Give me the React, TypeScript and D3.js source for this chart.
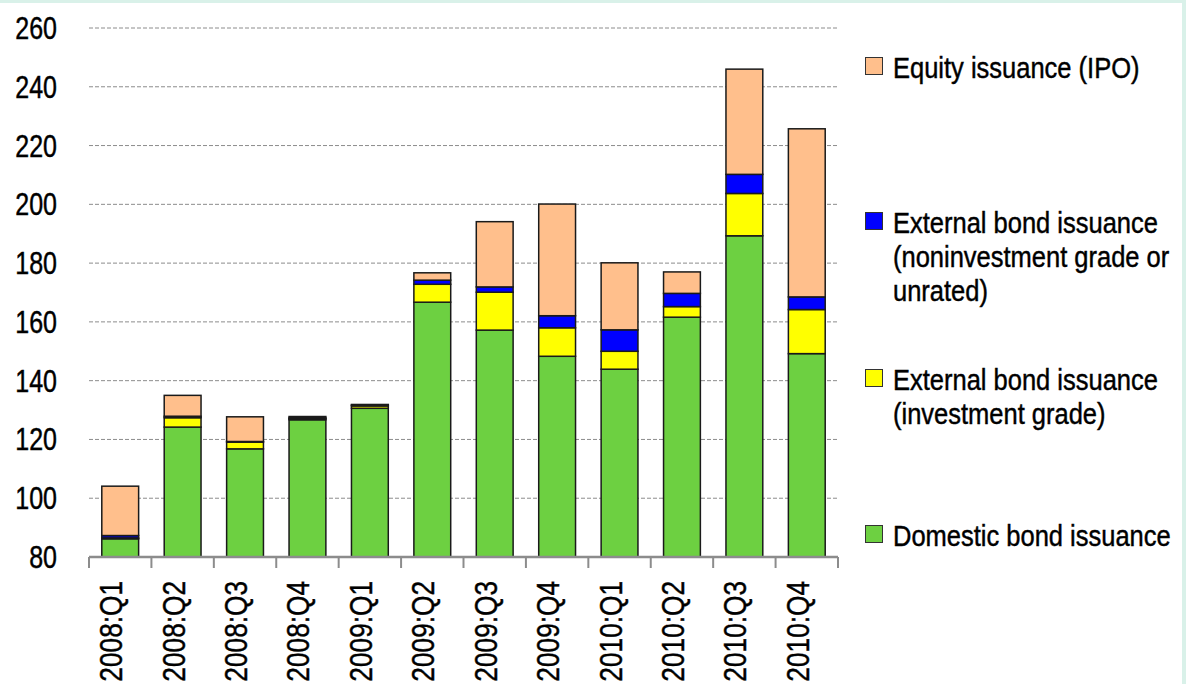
import * as React from "react";
import * as d3 from "d3";

const quarters = [
  "2008:Q1", "2008:Q2", "2008:Q3", "2008:Q4",
  "2009:Q1", "2009:Q2", "2009:Q3", "2009:Q4",
  "2010:Q1", "2010:Q2", "2010:Q3", "2010:Q4",
];
const domestic = [86.2, 124.2, 116.8, 126.7, 130.6, 166.7, 157.2, 148.3, 143.9, 161.6, 189.3, 149.2];
const extInvestment = [0.3, 3.2, 2.3, 0.4, 0.8, 6.1, 12.9, 9.7, 6.1, 3.6, 14.4, 15.0];
const extNonInvestment = [0.8, 0.5, 0.2, 0.2, 0.3, 1.4, 1.8, 4.1, 7.3, 4.5, 6.5, 4.3];
const equity = [16.8, 7.1, 8.4, 0.5, 0.2, 2.5, 22.2, 38.0, 22.8, 7.3, 35.8, 57.2];
const yTicks = [80, 100, 120, 140, 160, 180, 200, 220, 240, 260];

const seriesKeys = ["domestic", "extInv", "extNonInv", "equity"];
const seriesColors = {
  domestic: "#6dd041",
  extInv: "#ffff00",
  extNonInv: "#0000ff",
  equity: "#ffbf8c",
};

// legend, top to bottom
const legendItems = [
  { key: "equity", lines: ["Equity issuance (IPO)"], y: 78 },
  { key: "extNonInv", lines: ["External bond issuance", "(noninvestment grade or", "unrated)"], y: 233 },
  { key: "extInv", lines: ["External bond issuance", "(investment grade)"], y: 390 },
  { key: "domestic", lines: ["Domestic bond issuance"], y: 546 },
];

// no condensed font installed, so squeeze Liberation Sans horizontally
// and give it a hairline stroke so it reads a bit heavier
const font = "'Liberation Sans', Arial, sans-serif";
const textWeight = { fill: "#000", stroke: "#000", strokeWidth: 0.45 };

const App = () => {
  const width = 1186;
  const height = 684;
  const left = 89;
  const right = 838;
  const top = 28;
  const bottom = 557;

  const rows = quarters.map((q, i) => ({
    q,
    domestic: domestic[i],
    extInv: extInvestment[i],
    extNonInv: extNonInvestment[i],
    equity: equity[i],
  }));
  const stacked = d3.stack().keys(seriesKeys)(rows as any);

  const x = d3.scaleBand().domain(quarters).range([left, right]).paddingInner(0.41).paddingOuter(0.205);
  const xb = d3.scaleBand().domain(quarters).range([left, right]);
  const y = d3.scaleLinear().domain([80, 260]).range([bottom, top]);

  return (
    <svg
      width={width}
      height={height}
      viewBox={`0 0 ${width} ${height}`}
      style={{ position: "absolute", left: 0, top: 0, display: "block", background: "#fff" }}
    >
      <rect x={0} y={0} width={width} height={3} fill="#d9f1e9" />
      <rect x={1182} y={0} width={4} height={height} fill="#d9f1e9" />

      {yTicks.slice(1).map((t) => (
        <line
          key={t}
          x1={left}
          x2={right}
          y1={y(t)}
          y2={y(t)}
          stroke="#8c8c8c"
          strokeWidth={1}
          strokeDasharray="4 2"
        />
      ))}
      {yTicks.map((t) => (
        <text
          key={t}
          transform={`translate(57, ${y(t)}) scale(0.82, 1)`}
          dy="0.36em"
          textAnchor="end"
          fontFamily={font}
          fontSize={30.5}
          {...textWeight}
        >
          {t}
        </text>
      ))}

      {stacked.map((s) =>
        s.map((d, i) => {
          const y0 = Math.max(d[0], 80);
          const y1 = d[1];
          if (y1 <= y0) return null;
          return (
            <rect
              key={`${s.key}-${i}`}
              x={x(quarters[i])}
              width={x.bandwidth()}
              y={y(y1)}
              height={y(y0) - y(y1)}
              fill={seriesColors[s.key]}
              stroke="#1a1a1a"
              strokeWidth={1.5}
            />
          );
        })
      )}

      <line x1={left} x2={right} y1={bottom} y2={bottom} stroke="#8c8c8c" strokeWidth={2.5} />
      {[...quarters.map((q) => xb(q)), right].map((tx, i) => (
        <line key={i} x1={tx} x2={tx} y1={bottom} y2={bottom + 11} stroke="#8c8c8c" strokeWidth={2} />
      ))}
      {quarters.map((q) => {
        const cx = xb(q) + xb.bandwidth() / 2;
        return (
          <text
            key={q}
            transform={`translate(${cx + 2}, 581) rotate(-90) scale(0.82, 1)`}
            textAnchor="end"
            fontFamily={font}
            fontSize={32}
            {...textWeight}
          >
            {q}
          </text>
        );
      })}

      {legendItems.map((item) => (
        <g key={item.key}>
          <rect
            x={865.5}
            y={item.y - 20.5}
            width={17}
            height={17}
            fill={seriesColors[item.key]}
            stroke="#333"
            strokeWidth={1}
          />
          {item.lines.map((line, j) => (
            <text
              key={j}
              transform={`translate(893, ${item.y + j * 34}) scale(0.85, 1)`}
              fontFamily={font}
              fontSize={30}
              {...textWeight}
            >
              {line}
            </text>
          ))}
        </g>
      ))}
    </svg>
  );
};

export default App;
